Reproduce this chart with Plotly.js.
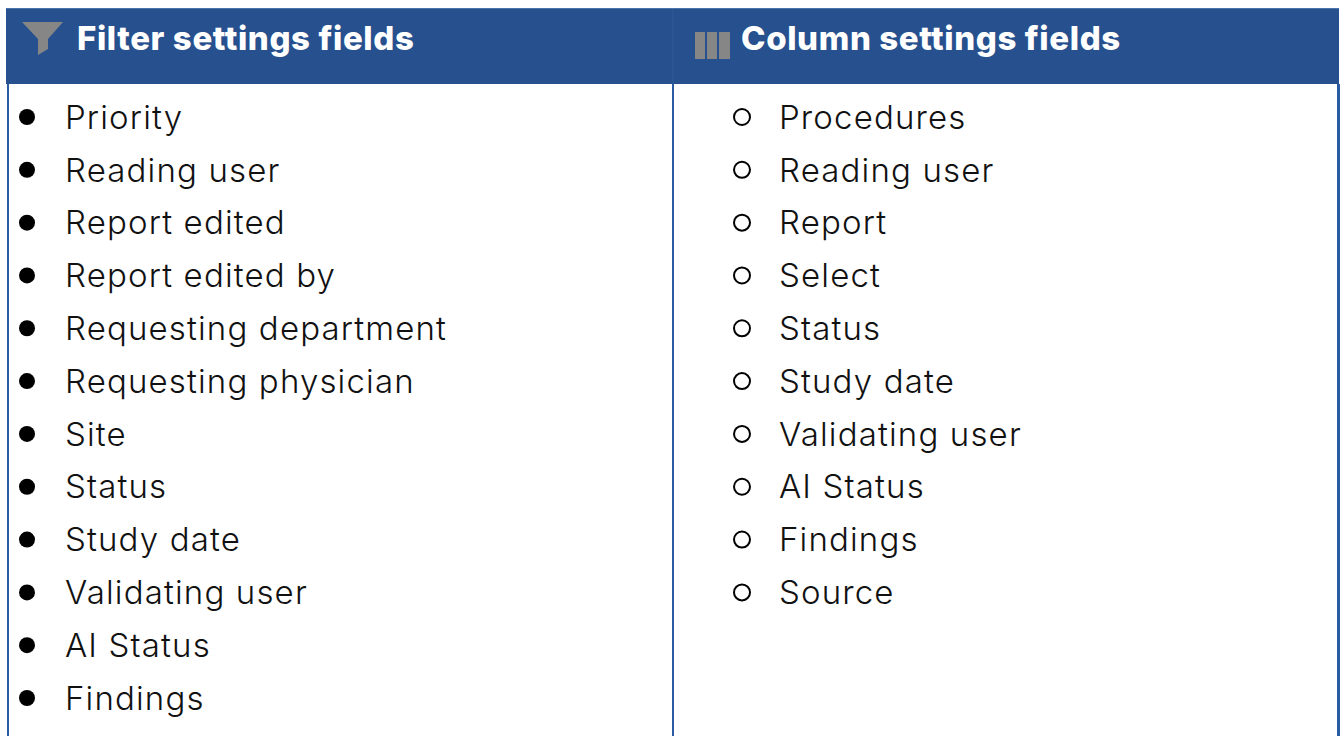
<!DOCTYPE html>
<html><head><meta charset="utf-8">
<script src="https://cdn.plot.ly/plotly-3.0.1.min.js"></script>
<style>html,body{margin:0;padding:0;background:#fff;overflow:hidden}#c{width:1341px;height:736px}
.textpoint text{letter-spacing:1.15px}
.headtrace .textpoint text{letter-spacing:0.6px}</style>
</head><body><div id="c"></div>
<script>
const filterFields = ["Priority","Reading user","Report edited","Report edited by","Requesting department","Requesting physician","Site","Status","Study date","Validating user","AI Status","Findings"];
const columnFields = ["Procedures","Reading user","Report","Select","Status","Study date","Validating user","AI Status","Findings","Source"];
const headers = ["Filter settings fields","Column settings fields"];
const FONT = "Inter, 'Open Sans', sans-serif";
const TEXT_DY = 0.065;
const rowsOf = a => a.map((_, i) => i);
const textTrace = (x, labels, ys, font) => ({type:"scatter",mode:"text",x:labels.map(()=>x),y:ys,text:labels,textposition:"middle right",textfont:font,hoverinfo:"skip",showlegend:false,cliponaxis:false});
const bulletTrace = (x, labels, sym, size, w) => ({type:"scatter",mode:"markers",x:labels.map(()=>x),y:rowsOf(labels),marker:{symbol:sym,size:size,color:"#000",line:{color:"#000",width:w}},hoverinfo:"skip",showlegend:false});
const bodyFont = {family:FONT,size:33,color:"#111111",weight:300};
const headFont = {family:FONT,size:33,color:"#ffffff",weight:800};
const data = [
  bulletTrace(27,filterFields,"circle",16,0),
  bulletTrace(742,columnFields,"circle-open",16,2),
  textTrace(65,filterFields,rowsOf(filterFields).map(r=>r+TEXT_DY),bodyFont),
  textTrace(779,columnFields,rowsOf(columnFields).map(r=>r+TEXT_DY),bodyFont),
  textTrace(77,[headers[0]],[-1.42],headFont),
  textTrace(741,[headers[1]],[-1.42],headFont)
];
const R = (x0,x1,y0,y1,c) => ({type:"rect",xref:"x",yref:"paper",x0,x1,y0:1-y0/736,y1:1-y1/736,fillcolor:c,line:{width:0},layer:"below"});
const P = (pts) => "M"+pts.map(p=>p[0]+","+(1-p[1]/736)).join("L")+"Z";
const shapes = [
  R(6,1339,8,84,"#27508e"),
  R(6,1339,8,9,"#4a74ac"),
  R(7,9,84,736,"#2a5ca3"),
  R(672,674,84,736,"#2a5ca3"),
  R(1337,1340,84,736,"#2a5ca3"),
  R(672,674,9,84,"#2a5595"),
  {type:"path",xref:"x",yref:"paper",path:P([[22,22],[63,22],[48,39],[48,49],[38,55],[38,39]]),fillcolor:"#868686",line:{width:0}},
  R(695,705,32,59,"#868686"),
  R(707,717,32,59,"#868686"),
  R(719,730,32,59,"#868686")
];
const layout = {width:1341,height:736,margin:{l:0,r:0,t:0,b:0},paper_bgcolor:"#fff",plot_bgcolor:"#fff",showlegend:false,
  xaxis:{range:[0,1341],visible:false,fixedrange:true},
  yaxis:{range:[(736-117)/52.82,-117/52.82],visible:false,fixedrange:true},
  shapes};
Plotly.newPlot("c",data,layout,{displayModeBar:false,staticPlot:true}).then(gd=>{
  const ts = gd.querySelectorAll(".scatterlayer .trace");
  ts.forEach((t,i)=>{ if(i>=4) t.classList.add("headtrace"); });
});
</script></body></html>
